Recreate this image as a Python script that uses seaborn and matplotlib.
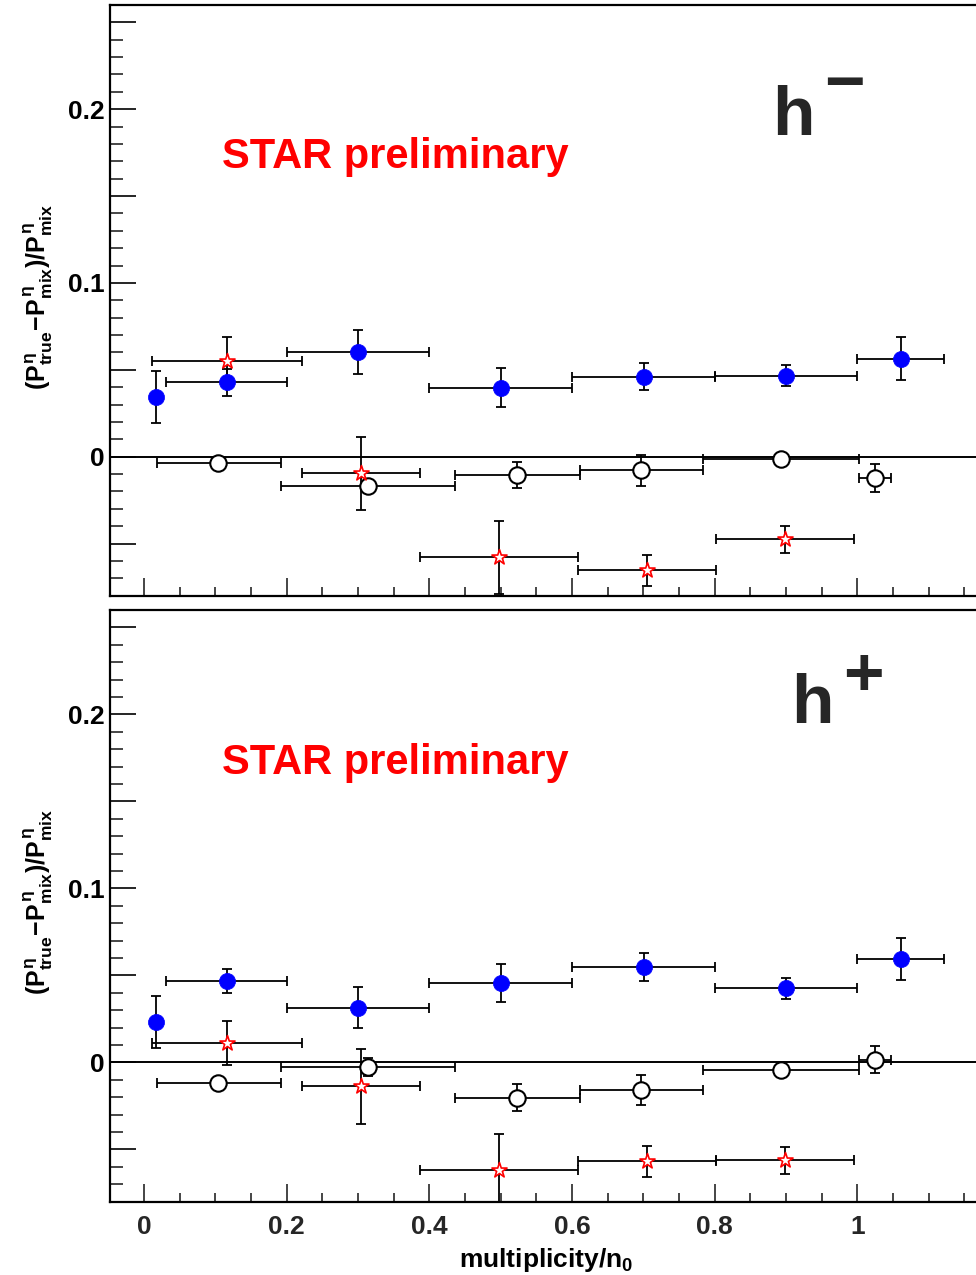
import numpy as np
import matplotlib
matplotlib.use("Agg")
import matplotlib.pyplot as plt
import seaborn as sns
import pandas as pd
from matplotlib.ticker import MultipleLocator, FuncFormatter

# ---------------- data ----------------
# filled blue circles
blue_x = [0.0164, 0.1163, 0.300, 0.4998, 0.701, 0.9006, 1.061]
blue_xlo = [0.0164, 0.031, 0.200, 0.400, 0.600, 0.800, 1.000]
blue_xhi = [0.0164, 0.2004, 0.400, 0.600, 0.800, 1.000, 1.121]
blue_y_hm = [0.0344, 0.0428, 0.0603, 0.0398, 0.0459, 0.0465, 0.0565]
blue_e_hm = [0.0150, 0.0076, 0.0127, 0.0110, 0.0078, 0.0060, 0.0122]
blue_y_hp = [0.0233, 0.0465, 0.0315, 0.0456, 0.0548, 0.0425, 0.0592]
blue_e_hp = [0.0150, 0.0069, 0.0120, 0.0110, 0.0078, 0.0060, 0.0120]

# open red stars
star_x = [0.1163, 0.304, 0.497, 0.705, 0.898]
star_xlo = [0.0108, 0.222, 0.387, 0.608, 0.802]
star_xhi = [0.222, 0.387, 0.608, 0.802, 0.995]
star_y_hm = [0.0553, -0.0094, -0.0578, -0.0655, -0.0476]
star_e_hm = [0.0135, 0.0210, 0.0210, 0.0088, 0.0078]
star_y_hp = [0.0113, -0.0137, -0.0620, -0.0568, -0.0562]
star_e_hp = [0.0127, 0.0215, 0.0210, 0.0088, 0.0077]

# open black circles
open_x = [0.104, 0.3135, 0.5227, 0.697, 0.8936, 1.0248]
open_xlo = [0.0187, 0.192, 0.436, 0.611, 0.784, 1.002]
open_xhi = [0.192, 0.436, 0.611, 0.784, 1.002, 1.047]
open_y_hm = [-0.0038, -0.0167, -0.0106, -0.0079, -0.0012, -0.0123]
open_e_hm = [0.0030, 0.0030, 0.0077, 0.0088, 0.0030, 0.0080]
open_y_hp = [-0.0119, -0.0027, -0.0202, -0.0158, -0.0046, 0.0015]
open_e_hp = [0.0030, 0.0053, 0.0077, 0.0088, 0.0030, 0.0077]

panel_names = ["h", "h"]
panel_sups = ["\u2212", "+"]
y_ticks_labelled = [0.0, 0.1, 0.2]
x_tick_labels = ["0", "0.2", "0.4", "0.6", "0.8", "1"]

# ---------------- style ----------------
sns.set_theme(style="white")
plt.rcParams["font.family"] = ["Liberation Sans", "DejaVu Sans"]
plt.rcParams["font.weight"] = "bold"
plt.rcParams["mathtext.fontset"] = "custom"
plt.rcParams["mathtext.rm"] = "Liberation Sans:bold"
plt.rcParams["mathtext.bf"] = "Liberation Sans:bold"
plt.rcParams["mathtext.it"] = "Liberation Sans:bold"
plt.rcParams["mathtext.sf"] = "Liberation Sans:bold"

fig = plt.figure(figsize=(9.76, 12.75), dpi=100)
ax1 = fig.add_axes([0.1127, 0.5328, 0.9119, 0.4633])
ax2 = fig.add_axes([0.1127, 0.0576, 0.9119, 0.4640])

panels = [
    (ax1, blue_y_hm, blue_e_hm, star_y_hm, star_e_hm, open_y_hm, open_e_hm),
    (ax2, blue_y_hp, blue_e_hp, star_y_hp, star_e_hp, open_y_hp, open_e_hp),
]


def xerr(xc, lo, hi):
    xc = np.asarray(xc)
    return [xc - np.asarray(lo), np.asarray(hi) - xc]


for i, (ax, by, be, sy, se, oy, oe) in enumerate(panels):
    ax.set_facecolor("white")
    ax.axhline(0, color="black", lw=1.4, zorder=1)

    ekw = dict(fmt="none", ecolor="black", elinewidth=1.3, capsize=3.5,
               capthick=1.3, zorder=2)
    ax.errorbar(blue_x, by, xerr=xerr(blue_x, blue_xlo, blue_xhi), yerr=be, **ekw)
    ax.errorbar(open_x, oy, xerr=xerr(open_x, open_xlo, open_xhi), yerr=oe, **ekw)
    ax.errorbar(star_x, sy, xerr=xerr(star_x, star_xlo, star_xhi), yerr=se, **ekw)

    df_b = pd.DataFrame({"x": blue_x, "y": by})
    df_o = pd.DataFrame({"x": open_x, "y": oy})
    df_s = pd.DataFrame({"x": star_x, "y": sy})
    sns.scatterplot(data=df_b, x="x", y="y", ax=ax, marker="o", s=135,
                    color="#0000ff", edgecolor="#0000ff", linewidth=0.5, zorder=4)
    sns.scatterplot(data=df_o, x="x", y="y", ax=ax, marker="o", s=140,
                    color="white", edgecolor="black", linewidth=1.5, zorder=4)
    sns.scatterplot(data=df_s, x="x", y="y", ax=ax, marker="*", s=130,
                    color="white", edgecolor="#ff0000", linewidth=1.2, zorder=5)

    ax.set_xlim(-0.0476, 1.2)
    ax.set_ylim(-0.08, 0.26)

    # ticks
    ax.xaxis.set_major_locator(MultipleLocator(0.2))
    ax.xaxis.set_minor_locator(MultipleLocator(0.05))
    ax.yaxis.set_major_locator(MultipleLocator(0.05))
    ax.yaxis.set_minor_locator(MultipleLocator(0.01))

    def yfmt(v, pos):
        for t in y_ticks_labelled:
            if abs(v - t) < 1e-6:
                return "%g" % t
        return ""

    ax.yaxis.set_major_formatter(FuncFormatter(yfmt))
    ax.xaxis.set_major_formatter(FuncFormatter(
        lambda v, pos: x_tick_labels[int(round(v / 0.2))]
        if 0 <= int(round(v / 0.2)) < len(x_tick_labels) and abs(v / 0.2 - round(v / 0.2)) < 1e-6
        else ""))

    ax.tick_params(axis="y", which="major", direction="in", length=19, width=1.2,
                   labelsize=19, pad=4, left=True, right=False, colors="black")
    ax.tick_params(axis="y", which="minor", direction="in", length=9.5, width=1.2,
                   left=True, right=False)
    ax.tick_params(axis="x", which="major", direction="in", length=13, width=1.2,
                   labelsize=19, pad=10, bottom=True, top=False,
                   labelbottom=(i == 1))
    ax.tick_params(axis="x", which="minor", direction="in", length=6.5, width=1.2,
                   bottom=True, top=False)
    for lab in ax.get_yticklabels() + ax.get_xticklabels():
        lab.set_fontweight("bold")

    for side in ["left", "top", "bottom"]:
        ax.spines[side].set_visible(True)
        ax.spines[side].set_color("black")
        ax.spines[side].set_linewidth(1.6)
    ax.spines["right"].set_visible(False)

    ax.set_ylabel(r"$(P^{\eta}_{true}\!-\!P^{\eta}_{mix})/P^{\eta}_{mix}$",
                  fontsize=18, color="black")
    ax.yaxis.label.set_va("center")
    ax.yaxis.set_label_coords(-0.081, 0.506)
    ax.set_xlabel("")

    ax.text(0.109, 0.166, "STAR preliminary", color="#ff0000", fontsize=30,
            fontweight="bold", va="baseline", ha="left")

ax1.text(0.880, 0.185, panel_names[0], fontsize=50, fontweight="bold", va="baseline")
ax1.text(0.953, 0.203, panel_sups[0], fontsize=50, fontweight="bold", va="baseline")
ax2.text(0.907, 0.195, panel_names[1], fontsize=50, fontweight="bold", va="baseline")
ax2.text(0.9796, 0.211, panel_sups[1], fontsize=50, fontweight="bold", va="baseline")

ax2.set_xlabel(r"multiplicity/n$_{0}$", fontsize=19, fontweight="bold",
               color="black", labelpad=2)
ax2.xaxis.set_label_coords((546 - 110) / 890.0, -0.075)

fig.savefig("out.png", dpi=100, facecolor="white")
